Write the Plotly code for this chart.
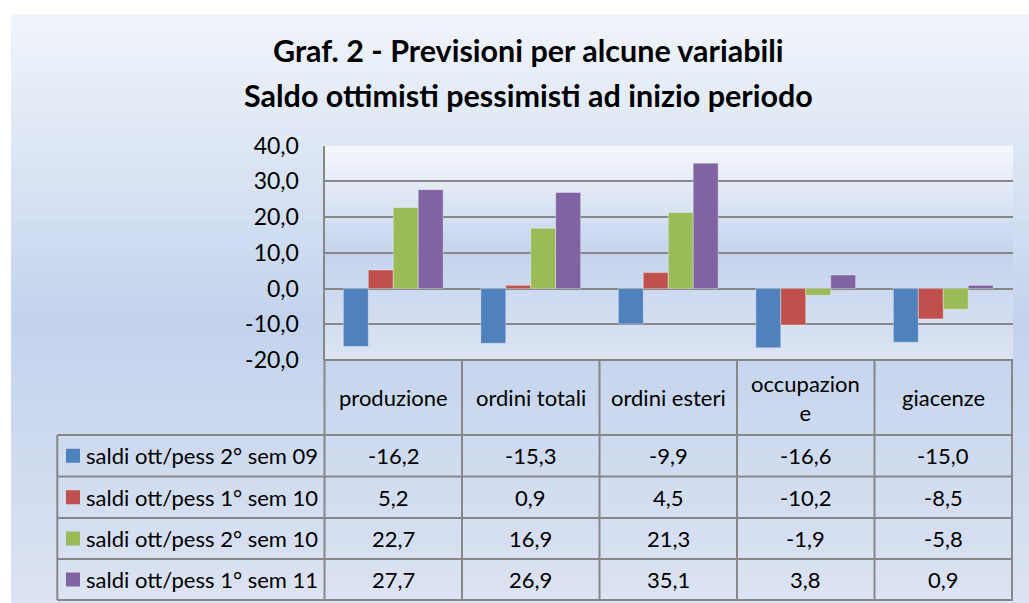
import plotly.graph_objects as go

# ---------------- data ----------------
categories = ["produzione", "ordini totali", "ordini esteri", "occupazione", "giacenze"]
header_labels = ["produzione", "ordini totali", "ordini esteri", "occupazion<br>e", "giacenze"]
series_names = [
    "saldi ott/pess 2° sem 09",
    "saldi ott/pess 1° sem 10",
    "saldi ott/pess 2° sem 10",
    "saldi ott/pess 1° sem 11",
]
sem2_09 = [-16.2, -15.3, -9.9, -16.6, -15.0]
sem1_10 = [5.2, 0.9, 4.5, -10.2, -8.5]
sem2_10 = [22.7, 16.9, 21.3, -1.9, -5.8]
sem1_11 = [27.7, 26.9, 35.1, 3.8, 0.9]
series_values = [sem2_09, sem1_10, sem2_10, sem1_11]
series_colors = ["#4F81BD", "#C0504D", "#9BBB59", "#8064A2"]
y_ticks = [-20, -10, 0, 10, 20, 30, 40]
title_line1 = "Graf. 2 - Previsioni per alcune variabili"
title_line2 = "Saldo ottimisti pessimisti ad inizio periodo"

# ---------------- geometry (pixels) ----------------
W, H = 1029, 603
FONT = "Lato, Carlito, Calibri, sans-serif"
GRID = "#878787"


def px(x):
    return x / W


def py(y):
    return 1 - y / H


def fmt(v):
    return f"{v:.1f}".replace(".", ",")


PLOT_L, PLOT_R = 324.5, 1013.0
PLOT_T, PLOT_B = 145.7, 360.0
LEG_L = 57.3
ROW_Y = [435.0, 476.5, 518.0, 559.0, 600.0]
HEADER_MID = 397.5


def lerp_hex(c1, c2, t):
    a = [int(c1[i:i + 2], 16) for i in (1, 3, 5)]
    b = [int(c2[i:i + 2], 16) for i in (1, 3, 5)]
    return "rgb(%d,%d,%d)" % tuple(round(a[k] + (b[k] - a[k]) * t) for k in range(3))


def gradient_color(stops, t):
    for (p0, c0), (p1, c1) in zip(stops, stops[1:]):
        if t <= p1:
            return lerp_hex(c0, c1, (t - p0) / (p1 - p0) if p1 > p0 else 0)
    return stops[-1][1]


def gradient_shapes(x0, x1, y0, y1, stops, n=80):
    out = []
    h = (y1 - y0) / n
    for i in range(n):
        t = (i + 0.5) / n
        out.append(dict(type="rect", xref="paper", yref="paper", layer="below",
                        x0=px(x0), x1=px(x1), y0=py(y0 + i * h), y1=py(y0 + (i + 1) * h + 0.6),
                        fillcolor=gradient_color(stops, t), line=dict(width=0)))
    return out


chart_stops = [(0.0, "#F1F5FB"), (0.52, "#C3D3ED"), (1.0, "#DCE3F2")]
plot_stops = [(0.0, "#F5F8FC"), (0.5, "#C4D3ED"), (1.0, "#DCE4F2")]

fig = go.Figure()
for name, vals, col in zip(series_names, series_values, series_colors):
    fig.add_trace(go.Bar(
        x=categories, y=vals, name=name,
        marker=dict(color=col, line=dict(width=1, color="rgba(255,255,255,0.35)")),
        hovertemplate="%{x}: %{y:.1f}<extra>" + name + "</extra>",
    ))

shapes = []
shapes += gradient_shapes(11, W, 14, H, chart_stops)
shapes += gradient_shapes(PLOT_L, PLOT_R, PLOT_T, PLOT_B, plot_stops, n=60)

line = dict(color=GRID, width=2)
# table horizontal lines
for i, yv in enumerate(ROW_Y):
    shapes.append(dict(type="line", xref="paper", yref="paper",
                       x0=px(LEG_L), x1=px(PLOT_R), y0=py(yv), y1=py(yv), line=line))
shapes.append(dict(type="line", xref="paper", yref="paper",
                   x0=px(PLOT_L), x1=px(PLOT_R), y0=py(PLOT_B), y1=py(PLOT_B), line=line))
# table vertical lines
shapes.append(dict(type="line", xref="paper", yref="paper",
                   x0=px(LEG_L), x1=px(LEG_L), y0=py(ROW_Y[0]), y1=py(ROW_Y[-1]), line=line))
shapes.append(dict(type="line", xref="paper", yref="paper",
                   x0=px(PLOT_L), x1=px(PLOT_L), y0=py(PLOT_B), y1=py(ROW_Y[-1]), line=line))
for k in range(len(categories)):
    xb = k + 0.5
    shapes.append(dict(type="line", xref="x", yref="paper",
                       x0=xb, x1=xb, y0=py(PLOT_B), y1=py(ROW_Y[-1]), line=line))
# legend keys
for r, col in enumerate(series_colors):
    cy = (ROW_Y[r] + ROW_Y[r + 1]) / 2
    shapes.append(dict(type="rect", xref="paper", yref="paper",
                       x0=px(66), x1=px(80), y0=py(cy + 7), y1=py(cy - 7),
                       fillcolor=col, line=dict(width=0)))

TXT = 22
annotations = []
annotations.append(dict(text="<b>" + title_line1 + "</b>", x=px(528), y=py(50), xref="paper", yref="paper",
                        xanchor="center", yanchor="middle", showarrow=False,
                        font=dict(family=FONT, size=30.5, color="#000000")))
annotations.append(dict(text="<b>" + title_line2 + "</b>", x=px(528), y=py(95), xref="paper", yref="paper",
                        xanchor="center", yanchor="middle", showarrow=False,
                        font=dict(family=FONT, size=30.5, color="#000000")))
for cat, lab in zip(categories, header_labels):
    annotations.append(dict(text=lab, x=cat, y=py(HEADER_MID), xref="x", yref="paper",
                            xanchor="center", yanchor="middle", showarrow=False,
                            font=dict(family=FONT, size=TXT, color="#000000")))
for r, (name, vals) in enumerate(zip(series_names, series_values)):
    cy = (ROW_Y[r] + ROW_Y[r + 1]) / 2
    annotations.append(dict(text=name, x=px(84), y=py(cy), xref="paper", yref="paper",
                            xanchor="left", yanchor="middle", showarrow=False,
                            font=dict(family=FONT, size=TXT, color="#000000")))
    for cat, v in zip(categories, vals):
        annotations.append(dict(text=fmt(v), x=cat, y=py(cy),
                                xref="x", yref="paper", xanchor="center", yanchor="middle",
                                showarrow=False, font=dict(family=FONT, size=TXT, color="#000000")))

fig.update_layout(
    width=W, height=H,
    margin=dict(l=0, r=0, t=0, b=0),
    paper_bgcolor="#FFFFFF",
    plot_bgcolor="rgba(0,0,0,0)",
    separators=",.",
    barmode="group", bargap=0.274, bargroupgap=0,
    showlegend=False,
    shapes=shapes,
    annotations=annotations,
    xaxis=dict(domain=[px(PLOT_L), px(PLOT_R)], showticklabels=False, showgrid=False,
               zeroline=False, showline=False, ticks="", fixedrange=True),
    yaxis=dict(domain=[py(PLOT_B), py(PLOT_T)], range=[-20, 40], tickvals=y_ticks,
               ticktext=[fmt(v) for v in y_ticks], showgrid=True, gridcolor=GRID, gridwidth=2,
               zeroline=True, zerolinecolor=GRID, zerolinewidth=2,
               showline=True, linecolor=GRID, linewidth=2, ticks="",
               ticklabelstandoff=19, automargin=False, fixedrange=True,
               tickfont=dict(family=FONT, size=23, color="#000000")),
    font=dict(family=FONT),
)

fig.write_html("out.html", config={"displayModeBar": False},
               post_script="document.body.style.margin='0';")
